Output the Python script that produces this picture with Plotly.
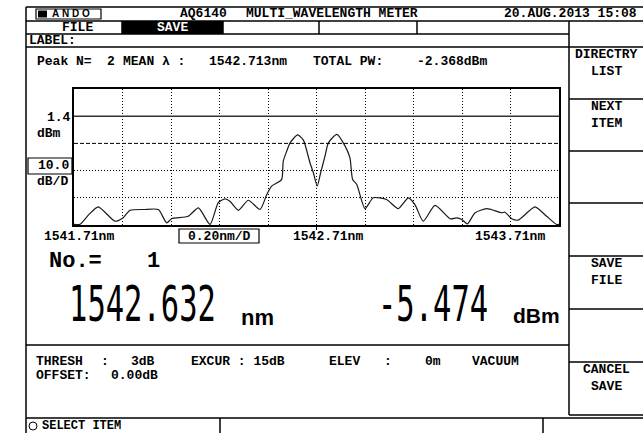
import json

import plotly.graph_objects as go

W, H = 643, 433

# measured spectrum (wavelength in nm, level in dBm)
WAVELENGTH_NM = [
    1541.710, 1541.735, 1541.772, 1541.810, 1541.879, 1541.913, 1541.941, 1541.999,
    1542.058, 1542.092, 1542.113, 1542.181, 1542.223, 1542.271, 1542.305, 1542.333,
    1542.353, 1542.388, 1542.429, 1542.477, 1542.505, 1542.525, 1542.566, 1542.573,
    1542.587, 1542.601, 1542.632, 1542.656, 1542.683, 1542.697, 1542.713, 1542.727,
    1542.745, 1542.759, 1542.794, 1542.828, 1542.848, 1542.859, 1542.876, 1542.910,
    1542.944, 1542.999, 1543.047, 1543.089, 1543.116, 1543.150, 1543.199, 1543.261,
    1543.288, 1543.309, 1543.332, 1543.364, 1543.412, 1543.474, 1543.487, 1543.515,
    1543.542, 1543.611, 1543.659, 1543.700, 1543.710,
]
POWER_DBM = [
    -38.4, -38.3, -34.7, -31.9, -37.2, -35.9, -33.2, -32.9,
    -32.9, -37.8, -36.3, -35.4, -32.3, -38.4, -30.4, -29.0,
    -29.9, -33.2, -29.5, -32.9, -27.4, -24.3, -21.9, -15.1,
    -11.5, -8.4, -5.47, -7.4, -15.7, -19.4, -24.3, -19.4,
    -13.3, -8.4, -5.28, -9.6, -13.9, -21.9, -23.7, -32.6,
    -28.6, -29.2, -32.6, -28.6, -31.1, -37.2, -31.4, -36.3,
    -36.0, -36.6, -38.2, -34.1, -32.6, -34.1, -33.9, -36.3,
    -36.8, -31.9, -35.4, -38.4, -38.4,
]

X_START, X_SPAN = 1541.71, 2.0          # 0.20 nm/div, 10 div
REF_LEVEL, DB_PER_DIV = 1.4, 10.0
X_TICK_LABELS = ["1541.71nm", "1542.71nm", "1543.71nm"]
SPAN_LABEL = "0.20nm/D"

PEAK_N, MEAN_WL, TOTAL_PW = "2", "1542.713nm", "-2.368dBm"
SEL_NO, SEL_WL, SEL_PW = "1", "1542.632", "-5.474"

SOFT_KEYS = [("DIRECTRY", "LIST"), ("NEXT", "ITEM"), ("", ""), ("", ""),
             ("SAVE", "FILE"), ("", ""), ("CANCEL", "SAVE")]

MONO = "Liberation Mono, DejaVu Sans Mono, monospace"
BIG = "DejaVu Sans Mono, Liberation Mono, monospace"
SANS = "Liberation Sans, Arial, sans-serif"


def px(x):
    return x / W


def py(y):
    return 1 - y / H


shapes, annotations = [], []


def line(x0, y0, x1, y1, w=1.5, dash=None):
    shapes.append(dict(type="line", xref="paper", yref="paper", x0=px(x0), y0=py(y0),
                       x1=px(x1), y1=py(y1), line=dict(color="black", width=w, dash=dash)))


def rect(x0, y0, x1, y1, fill=None, w=1.5):
    shapes.append(dict(type="rect", xref="paper", yref="paper", x0=px(x0), y0=py(y0),
                       x1=px(x1), y1=py(y1), fillcolor=fill or "rgba(0,0,0,0)",
                       line=dict(color="black", width=w)))


def text(x, y, s, size=13, anchor="left", color="black", family=MONO, bold=True):
    s = s.replace(" ", "\u00a0")
    if bold:
        s = f"<b>{s}</b>"
    annotations.append(dict(x=px(x), y=py(y), xref="paper", yref="paper", text=s,
                            showarrow=False, xanchor=anchor, yanchor="middle",
                            borderpad=0, font=dict(family=family, size=size, color=color)))


# frame
line(26, 7, W, 7)
line(26, 21, W, 21)
line(26, 34, 569, 34)
line(26, 47, W, 47)
line(26, 7, 26, H)
for x in (122, 223, 319, 417):
    line(x, 21, x, 34)
line(569, 21, 569, 415)
for y in (99, 151, 203, 256, 309, 362, 415):
    line(569, y, W, y)
line(26, 345, 569, 345)
line(26, 418, W, 418)
line(220, 418, 220, H)
line(543, 418, 543, H)

# header
rect(36, 9, 101, 19, w=1.2)
rect(38, 10.5, 47, 17.5, fill="black", w=0)
text(51, 14, "A N D O", size=10, family=SANS)
text(179, 14, "AQ6140")
text(245, 14, "MULTI_WAVELENGTH METER")
text(638, 14, "20.AUG.2013 15:08", anchor="right")

# menu row
rect(122, 21, 223, 34, fill="black", w=0)
text(77, 27.5, "FILE", anchor="center")
text(172, 27.5, "SAVE", anchor="center", color="white")
text(28, 40.5, "LABEL:")

# summary line
text(36, 61, "Peak N=")
text(106, 61, PEAK_N)
text(122, 61, "MEAN λ :")
text(208, 61, MEAN_WL)
text(312, 61, "TOTAL PW:")
text(416, 61, TOTAL_PW)

# y scale labels
text(72, 117, f"{REF_LEVEL:.1f}", anchor="right")
text(36, 133, "dBm")
rect(28, 158, 72, 174, w=1.2)
text(70, 166, f"{DB_PER_DIV:.1f}", anchor="right")
text(36, 181, "dB/D")

# x scale labels
text(43, 236, X_TICK_LABELS[0])
rect(179, 229, 259, 243, w=1.2)
text(219, 236, SPAN_LABEL, anchor="center")
text(292, 236, X_TICK_LABELS[1])
text(546, 236, X_TICK_LABELS[2], anchor="right")

# selected peak readout
text(48, 261, "No.=", size=22)
text(146, 261, SEL_NO, size=22)
text(68, 304, SEL_WL, size=50, family=BIG, bold=False)
text(240, 317, "nm", size=22, family=SANS)
text(377, 304, SEL_PW, size=50, family=BIG, bold=False)
text(512, 315, "dBm", size=21, family=SANS)

# conditions
text(35, 361, "THRESH")
text(100, 361, ":")
text(130, 361, "3dB")
text(190, 361, "EXCUR : 15dB")
text(328, 361, "ELEV")
text(383, 361, ":")
text(424, 361, "0m")
text(471, 361, "VACUUM")
text(35, 375, "OFFSET:")
text(110, 375, "0.00dB")

# status bar
shapes.append(dict(type="circle", xref="paper", yref="paper", x0=px(29), y0=py(422),
                   x1=px(37), y1=py(430), line=dict(color="black", width=1)))
text(41, 425.5, "SELECT ITEM", size=12)

# soft keys
key_tops = [47, 99, 151, 203, 256, 309, 362]
for top, (a, b) in zip(key_tops, SOFT_KEYS):
    if a:
        text(606, top + 7, a, anchor="center")
        text(606, top + 24, b, anchor="center")

# trace
fig = go.Figure()
fig.add_trace(go.Scatter(
    x=WAVELENGTH_NM, y=POWER_DBM, mode="lines",
    line=dict(color="#1a1a1a", width=1.2, shape="spline", smoothing=0.6),
    hoverinfo="skip", showlegend=False,
))

x_end = X_START + X_SPAN
x_mid = X_START + X_SPAN / 2
y_top = REF_LEVEL + DB_PER_DIV
y_bot = REF_LEVEL - 4 * DB_PER_DIV
shapes.append(dict(type="line", xref="x", yref="y", x0=X_START, x1=x_end,
                   y0=REF_LEVEL, y1=REF_LEVEL, line=dict(color="#333", width=1.5)))
shapes.append(dict(type="line", xref="x", yref="y", x0=X_START, x1=x_end,
                   y0=REF_LEVEL - DB_PER_DIV, y1=REF_LEVEL - DB_PER_DIV,
                   line=dict(color="black", width=1, dash="4px,2px")))
# centre marker below the grid
shapes.append(dict(type="line", xref="x", yref="paper", x0=x_mid, x1=x_mid,
                   y0=py(225), y1=py(230), line=dict(color="black", width=1)))

fig.update_layout(
    width=W, height=H,
    margin=dict(l=0, r=0, t=0, b=0),
    paper_bgcolor="white", plot_bgcolor="white",
    shapes=shapes, annotations=annotations,
    xaxis=dict(domain=[px(74), px(559)], range=[X_START, x_end],
               tick0=X_START, dtick=X_SPAN / 10, showgrid=True, griddash="1px,2px",
               gridcolor="black", gridwidth=1, showline=True, mirror=True,
               linecolor="black", linewidth=1.5, showticklabels=False, ticks="",
               zeroline=False, fixedrange=True),
    yaxis=dict(domain=[py(225), py(89)], range=[y_bot, y_top],
               tickvals=[REF_LEVEL - 2 * DB_PER_DIV, REF_LEVEL - 3 * DB_PER_DIV],
               showgrid=True, griddash="1px,2px", gridcolor="black", gridwidth=1,
               showline=True, mirror=True, linecolor="black", linewidth=1.5,
               showticklabels=False, ticks="", zeroline=False, fixedrange=True),
)

# the instrument's big readout uses a tall condensed bitmap font: squeeze those texts
squeeze = {SEL_WL: 0.61, SEL_PW: 0.61}
post = """
document.body.style.margin = '0';
document.body.style.overflow = 'hidden';
var sx = %s;
document.querySelectorAll('.annotation-text').forEach(function (t) {
  var k = t.textContent.replace(/\\u00a0/g, ' ');
  if (sx[k]) {
    t.style.transformBox = 'fill-box';
    t.style.transformOrigin = '0 50%%';
    t.style.transform = 'scaleX(' + sx[k] + ')';
  }
});
""" % json.dumps(squeeze)

fig.write_html("out.html", config={"displayModeBar": False}, post_script=post)
